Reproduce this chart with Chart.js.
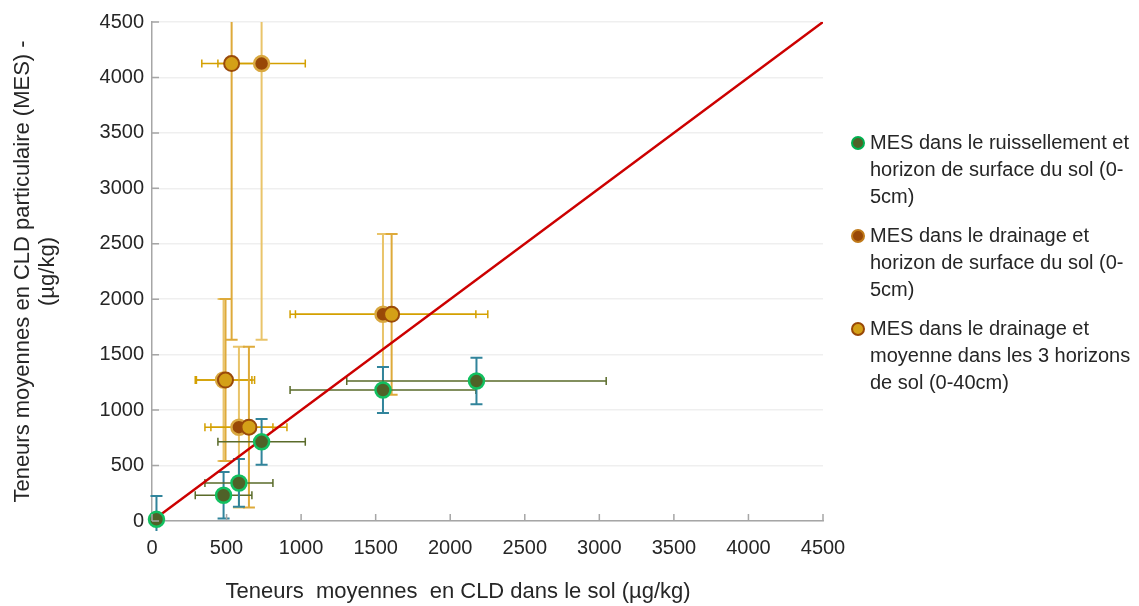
<!DOCTYPE html>
<html>
<head>
<meta charset="utf-8">
<script src="https://cdn.jsdelivr.net/npm/chart.js@4.4.1/dist/chart.umd.min.js"></script>
<style>
    body { margin: 0; background: #ffffff; }
    #wrap { position: relative; width: 1139px; height: 606px; }
    #legend {
        position: absolute; left: 851px; top: 129px;
        font-family: "Liberation Sans", Arial, sans-serif; font-size: 20px; line-height: 27px; color: #262626;
    }
    .item { position: relative; padding-left: 19px; margin-bottom: 12px; white-space: nowrap; }
    .dot { position: absolute; left: 0; top: 7px; width: 10px; height: 10px; border-radius: 50%; border: 2px solid; }
</style>
</head>
<body>
<div id="wrap">
    <canvas id="chartXY" width="1139" height="606"></canvas>
    <div id="legend"></div>
</div>
<script>
// soil (x) vs suspended matter (y), ug/kg
const ruissX = [30, 480, 583, 735, 1549, 2176];
const ruissY = [15, 232, 343, 714, 1181, 1262];
const ruissXErr = [20, 190, 228, 293, 623, 870];
const ruissYErr = [210, 210, 215, 206, 207, 210];

const drainSurfX = [735, 480, 583, 1549];
const drainSurfY = [4125, 1271, 846, 1864];
const drainSurfXErr = [293, 190, 228, 623];
const drainSurfYErr = [2490, 730, 725, 725];

const drainMoyX = [534, 493, 650, 1607];
const drainMoyY = [4125, 1271, 846, 1864];
const drainMoyXErr = [200, 195, 255, 645];
const drainMoyYErr = [2490, 730, 725, 725];

const lineX = [0, 4500];
const lineY = [0, 4500];

const axisTicks = [0, 500, 1000, 1500, 2000, 2500, 3000, 3500, 4000, 4500];

const seriesLabels = [
    ['MES dans le ruissellement et', 'horizon de surface du sol (0-', '5cm)'],
    ['MES dans le drainage et', 'horizon de surface du sol (0-', '5cm)'],
    ['MES dans le drainage et', 'moyenne dans les 3 horizons', 'de sol (0-40cm)']
];

const FONT = '"Liberation Sans", Arial, sans-serif';

function toPoints(xs, ys) {
    return xs.map(function(x, i) { return {x: x, y: ys[i]}; });
}

// error bars drawn under the markers, through the chart's scales
const errorBarPlugin = {
    id: 'errorBars',
    beforeDatasetsDraw(chart) {
        const ctx = chart.ctx;
        const xs = chart.scales.x, ys = chart.scales.y;
        const area = chart.chartArea;
        ctx.save();
        ctx.beginPath();
        ctx.rect(area.left - 10, area.top, area.right - area.left + 20, area.bottom - area.top + 10);
        ctx.clip();
        chart.data.datasets.forEach(function(ds) {
            if (!ds.xErr) return;
            ds.data.forEach(function(p, i) {
                const px = xs.getPixelForValue(p.x);
                const py = ys.getPixelForValue(p.y);
                // horizontal
                const x0 = xs.getPixelForValue(p.x - ds.xErr[i]);
                const x1 = xs.getPixelForValue(p.x + ds.xErr[i]);
                ctx.strokeStyle = ds.xErrColor;
                ctx.lineWidth = 1.5;
                ctx.beginPath();
                ctx.moveTo(x0, py); ctx.lineTo(x1, py);
                ctx.moveTo(x0, py - 4); ctx.lineTo(x0, py + 4);
                ctx.moveTo(x1, py - 4); ctx.lineTo(x1, py + 4);
                ctx.stroke();
                // vertical
                const y0 = ys.getPixelForValue(p.y - ds.yErr[i]);
                const y1 = ys.getPixelForValue(p.y + ds.yErr[i]);
                ctx.strokeStyle = ds.yErrColor;
                ctx.lineWidth = 2;
                ctx.beginPath();
                ctx.moveTo(px, y0); ctx.lineTo(px, y1);
                ctx.moveTo(px - 6, y0); ctx.lineTo(px + 6, y0);
                ctx.moveTo(px - 6, y1); ctx.lineTo(px + 6, y1);
                ctx.stroke();
            });
        });
        ctx.restore();
    },
    afterDraw(chart) {
        const ctx = chart.ctx;
        const xs = chart.scales.x, ys = chart.scales.y;
        const area = chart.chartArea;
        // inside tick marks
        ctx.save();
        ctx.strokeStyle = '#a6a6a6';
        ctx.lineWidth = 1.5;
        ctx.beginPath();
        axisTicks.forEach(function(v) {
            const tx = xs.getPixelForValue(v);
            ctx.moveTo(tx, area.bottom); ctx.lineTo(tx, area.bottom - 7);
            const ty = ys.getPixelForValue(v);
            ctx.moveTo(area.left, ty); ctx.lineTo(area.left + 7, ty);
        });
        ctx.stroke();
        // x axis title, sits a bit left of the plot centre
        ctx.fillStyle = '#262626';
        ctx.font = '22px ' + FONT;
        ctx.textAlign = 'center';
        ctx.textBaseline = 'middle';
        ctx.fillText('Teneurs  moyennes  en CLD dans le sol (µg/kg)', 458, 592);
        ctx.restore();
    }
};

function plainTick(value) {
    return String(value);
}

function buildLegend() {
    const fills = ['#4f6228', '#984807', '#d4a017'];
    const borders = ['#00b050', '#c07a1a', '#984807'];
    const box = document.getElementById('legend');
    seriesLabels.forEach(function(lines, i) {
        const item = document.createElement('div');
        item.className = 'item';
        const dot = document.createElement('span');
        dot.className = 'dot';
        dot.style.background = fills[i];
        dot.style.borderColor = borders[i];
        item.appendChild(dot);
        lines.forEach(function(t, j) {
            if (j > 0) item.appendChild(document.createElement('br'));
            item.appendChild(document.createTextNode(t));
        });
        box.appendChild(item);
    });
}

document.addEventListener('DOMContentLoaded', function() {
    const ctx = document.getElementById('chartXY');
    new Chart(ctx, {
        type: 'scatter',
        data: {
            datasets: [{
                type: 'line',
                label: 'y = x',
                data: toPoints(lineX, lineY),
                borderColor: '#cc0000',
                borderWidth: 2.5,
                pointRadius: 0,
                fill: false,
                order: 10
            }, {
                label: seriesLabels[1].join(' '),
                data: toPoints(drainSurfX, drainSurfY),
                xErr: drainSurfXErr,
                yErr: drainSurfYErr,
                xErrColor: '#d4a000',
                yErrColor: '#e9c46a',
                backgroundColor: '#984807',
                borderColor: '#d9a840',
                borderWidth: 2.5,
                pointRadius: 7.5,
                clip: false,
                order: 3
            }, {
                label: seriesLabels[2].join(' '),
                data: toPoints(drainMoyX, drainMoyY),
                xErr: drainMoyXErr,
                yErr: drainMoyYErr,
                xErrColor: '#d4a000',
                yErrColor: '#deaa3a',
                backgroundColor: '#d4a017',
                borderColor: '#9a4a0a',
                borderWidth: 2,
                pointRadius: 7.5,
                clip: false,
                order: 2
            }, {
                label: seriesLabels[0].join(' '),
                data: toPoints(ruissX, ruissY),
                xErr: ruissXErr,
                yErr: ruissYErr,
                xErrColor: '#5a6b2a',
                yErrColor: '#31849b',
                backgroundColor: '#4f6228',
                borderColor: '#12c060',
                borderWidth: 2.5,
                pointRadius: 7.5,
                clip: false,
                order: 1
            }]
        },
        options: {
            responsive: false,
            animation: false,
            layout: { padding: { top: 22, right: 316, left: 0, bottom: 0 } },
            plugins: {
                legend: { display: false },
                tooltip: { enabled: false }
            },
            scales: {
                x: {
                    type: 'linear',
                    position: 'bottom',
                    min: 0,
                    max: 4500,
                    afterFit: function(scale) { scale.height = 85; },
                    ticks: { stepSize: 500, padding: 15, color: '#262626', font: { family: FONT, size: 20 }, callback: plainTick },
                    grid: { display: true, drawOnChartArea: false, drawTicks: false },
                    border: { display: true, color: '#a6a6a6', width: 1.5 }
                },
                y: {
                    min: 0,
                    max: 4500,
                    afterFit: function(scale) { scale.width = 152; },
                    title: {
                        display: true,
                        text: ['Teneurs moyennes en CLD particulaire (MES) -', '(µg/kg)'],
                        color: '#262626',
                        font: { family: FONT, size: 22, lineHeight: 1.14 },
                        padding: { top: 10, bottom: 0 }
                    },
                    ticks: { stepSize: 500, padding: 8, color: '#262626', font: { family: FONT, size: 20 }, callback: plainTick },
                    grid: { color: '#efefef', lineWidth: 1.5, drawTicks: false },
                    border: { display: true, color: '#a6a6a6', width: 1.5 }
                }
            }
        },
        plugins: [errorBarPlugin]
    });
    buildLegend();
});
</script>
</body>
</html>
